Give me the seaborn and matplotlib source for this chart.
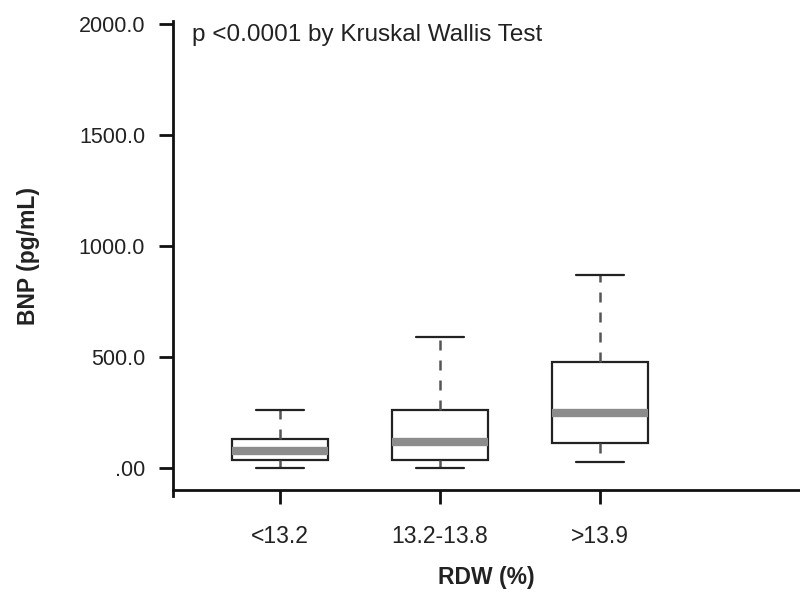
import pandas as pd
import matplotlib
matplotlib.use("Agg")
import matplotlib.pyplot as plt
import seaborn as sns

# five-number summaries: min, q1, median, q3, max
groups = ['<13.2', '13.2-13.8', '>13.9']
bnp_min = [0, 0, 25]
bnp_q1 = [36, 36, 113]
bnp_median = [77, 117, 248]
bnp_q3 = [131, 261, 477]
bnp_max = [261, 590, 869]

y_ticks = [0, 500, 1000, 1500, 2000]
y_tick_labels = ['.00', '500.0', '1000.0', '1500.0', '2000.0']

rows = []
for i, g in enumerate(groups):
    for v in (bnp_min[i], bnp_q1[i], bnp_median[i], bnp_q3[i], bnp_max[i]):
        rows.append({'RDW': g, 'BNP': v})
df = pd.DataFrame(rows)

sns.set_style('white')
plt.rcParams['font.family'] = ['Liberation Sans', 'DejaVu Sans']

fig = plt.figure(figsize=(8, 6.12), dpi=100)
ax = fig.add_axes([0.216, 0.199, 0.784, 0.766])

# whis=(0, 100) so whiskers run to min/max of the five-number summary
sns.boxplot(
    data=df, x='RDW', y='BNP', order=groups, whis=(0, 100), width=0.6,
    color='white', linecolor='#222222', linewidth=1.6, showfliers=False,
    medianprops={'color': '#8c8c8c', 'linewidth': 6, 'solid_capstyle': 'butt'},
    whiskerprops={'color': '#555555', 'linestyle': (0, (4, 4)), 'linewidth': 1.8},
    capprops={'color': '#222222', 'linewidth': 1.6},
    boxprops={'facecolor': 'white', 'edgecolor': '#222222'},
    ax=ax,
)

ax.set_xlim(-0.67, 3.25)
ax.set_ylim(-100, 2010)
ax.set_yticks(y_ticks)
ax.set_yticklabels(y_tick_labels)

ax.spines['top'].set_visible(False)
ax.spines['right'].set_visible(False)
for s in ('left', 'bottom'):
    ax.spines[s].set_linewidth(2)
    ax.spines[s].set_color('#111111')
ax.spines['left'].set_bounds(-125, 2010)

ax.tick_params(axis='both', which='major', direction='out', length=10, width=2,
               color='#111111', labelcolor='#222222', bottom=True, left=True)
ax.tick_params(axis='y', pad=10, labelsize=15.5)
ax.tick_params(axis='x', pad=15, labelsize=16.5)

ax.set_xlabel('RDW (%)', fontsize=16.5, fontweight='bold', labelpad=13, color='#222222')
ax.set_ylabel('BNP (pg/mL)', fontsize=16.5, fontweight='bold', labelpad=28, color='#222222')

ax.text(0.03, 0.995, 'p <0.0001 by Kruskal Wallis Test', transform=ax.transAxes,
        fontsize=17.5, ha='left', va='top', color='#222222')

fig.savefig('out.png', dpi=100)
